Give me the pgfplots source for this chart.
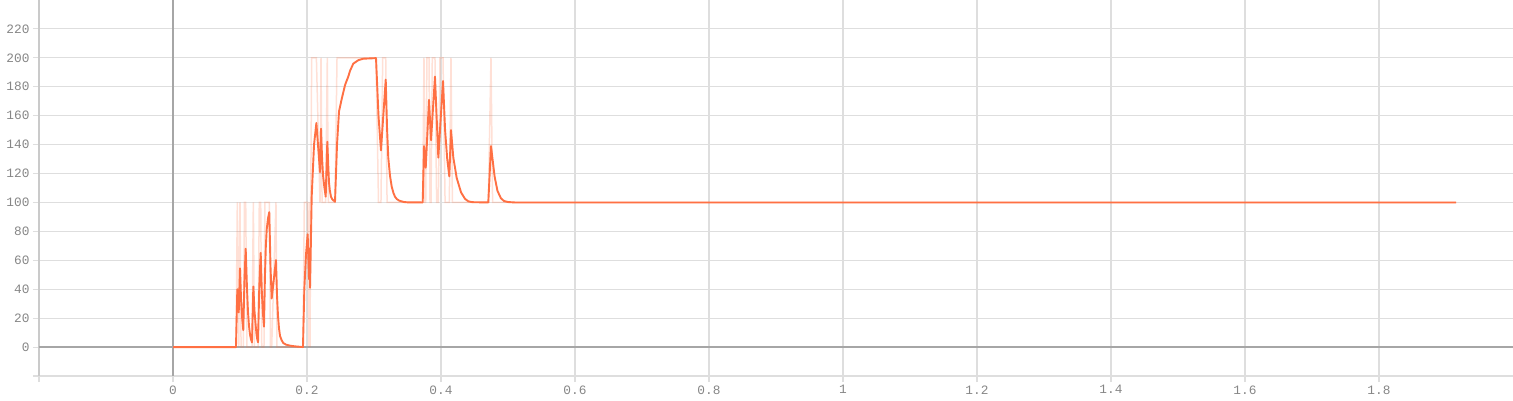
\documentclass[border=0pt]{standalone}
\usepackage{pgfplots}
\pgfplotsset{compat=1.18}
\usepackage{fontspec}
\setmainfont{Liberation Sans}
\newfontfamily\tickfont{Liberation Mono}
\definecolor{lineorange}{HTML}{FF7043}
\definecolor{gridc}{HTML}{DEDEDE}
\definecolor{zeroc}{HTML}{A6A6A6}
\definecolor{axc}{HTML}{CACACA}
\definecolor{labc}{HTML}{868686}
\begin{document}
\begin{tikzpicture}
\begin{axis}[
  name=ax,
  scale only axis,
  width=1474pt, height=376pt,
  xmin=-0.2, xmax=2.0, ymin=-20, ymax=240,
  xtick={-0.2,0,0.2,0.4,0.6,0.8,1,1.2,1.4,1.6,1.8},
  xticklabels={{},0,0.2,0.4,0.6,0.8,1,1.2,1.4,1.6,1.8},
  ytick={-20,0,20,40,60,80,100,120,140,160,180,200,220},
  yticklabels={{},0,20,40,60,80,100,120,140,160,180,200,220},
  grid=major,
  major grid style={gridc, line width=1.1pt},
  axis x line*=bottom,
  axis y line*=left,
  x axis line style={gridc, line width=1.1pt},
  y axis line style={axc, line width=1.1pt},
  tick style={gridc, line width=1.1pt},
  major tick length=6pt,
  tick align=outside,
  ticklabel style={font=\tickfont\fontsize{12.8}{14}\selectfont, text=labc},
  clip=true,
]
\draw[zeroc, line width=1.4pt] (axis cs:0,-20) -- (axis cs:0,240);
\draw[zeroc, line width=1.4pt] (axis cs:-0.2,0) -- (axis cs:2.0,0);

% raw series (faint)
\addplot[lineorange, draw opacity=0.22, line width=1.5pt, no markers, sharp plot] coordinates {
(0,0)(0.0940,0)(0.0960,100)(0.0981,0)(0.1000,100)(0.1016,0)(0.1049,0)
(0.1067,100)(0.1085,100)(0.1104,0)(0.1179,0)(0.1199,100)(0.1216,0)(0.1269,0)
(0.1288,100)(0.1309,100)(0.1325,0)(0.1358,0)(0.1372,100)(0.1437,100)
(0.1455,0)(0.1473,0)(0.1537,100)(0.1552,0)(0.1940,0)
(0.1960,100)(0.2010,100)(0.2030,0)(0.2040,100)(0.2045,0)(0.2055,100)
(0.2070,200)(0.2140,200)(0.2194,100)(0.2209,200)(0.2225,100)(0.2279,100)
(0.2303,200)(0.2318,100)(0.2418,100)(0.2448,200)(0.3030,200)
(0.3067,100)(0.3104,100)(0.3130,200)(0.3175,200)(0.3195,100)(0.3727,100)
(0.3746,200)(0.3760,100)(0.3772,100)(0.3790,200)(0.3821,200)(0.3836,100)
(0.3851,100)(0.3870,200)(0.3910,200)(0.3935,100)(0.3960,100)(0.3985,200)
(0.4030,200)(0.4061,100)(0.4124,100)(0.4149,200)(0.4170,100)(0.4706,100)
(0.4746,200)(0.4770,100)(1.915,100)
};

% smoothed series
\addplot[lineorange, line width=1.9pt, no markers, sharp plot, line join=round] coordinates {
(0,0)(0.0940,0)(0.0960,40)(0.0981,24)(0.1000,54.4)(0.1016,32.6)(0.1033,19.6)
(0.1049,11.7)(0.1067,47)(0.1085,68)(0.1104,41)(0.1119,24.5)(0.1134,14.7)
(0.1149,8.8)(0.1164,5.3)(0.1179,3.2)(0.1199,41.9)(0.1216,25.1)(0.1234,15.1)
(0.1246,9)(0.1258,5.4)(0.1269,3.3)(0.1288,42)(0.1309,65.2)(0.1325,39.1)
(0.1342,23.5)(0.1358,14.1)(0.1372,48.4)(0.1385,69)(0.1399,81.5)(0.1418,88.9)
(0.1437,93.3)(0.1455,56)(0.1473,33.6)(0.1537,60.2)(0.1552,36.1)(0.1567,21.7)
(0.1582,13)(0.1597,7.8)(0.1622,4.7)(0.1646,2.8)(0.1687,1.7)(0.1746,1.0)
(0.1821,0.5)(0.1896,0.2)(0.1940,0)
(0.1960,40)(0.1985,64)(0.2010,78)(0.2030,47)(0.2040,68)(0.2045,41)
(0.2055,64.6)(0.2070,104)(0.2105,140)(0.2140,155)(0.2194,121)(0.2209,151)
(0.2225,130.6)(0.2240,118.4)(0.2258,111)(0.2279,104)(0.2303,142)(0.2318,125)
(0.2328,114)(0.2340,108.6)(0.2358,104)(0.2380,102)(0.2418,100.5)(0.2448,140)
(0.2478,163)(0.2520,172)(0.2567,181)(0.2590,184)(0.2616,187)(0.2642,191)
(0.2691,196)(0.2766,198.4)(0.2840,199.4)(0.3030,199.8)(0.3067,160)
(0.3104,136)(0.3175,185)(0.3195,151)(0.3213,131)(0.3239,118.4)(0.3264,111)
(0.3290,106.6)(0.3313,104)(0.3340,102.4)(0.3370,101.4)(0.3400,100.9)
(0.3450,100.3)(0.3500,100.1)(0.3727,100)(0.3746,139)(0.3772,124)(0.3821,171)
(0.3851,143)(0.3910,187)(0.3960,131)(0.4030,184)(0.4061,150)(0.4093,130)
(0.4124,118)(0.4149,150)(0.4184,131)(0.4234,117)(0.4299,107)(0.4358,102.5)
(0.4407,100.8)(0.4467,100.2)(0.4706,100)(0.4746,139)(0.4800,118)(0.4843,108)
(0.4893,103)(0.4940,101)(0.5000,100.3)(0.5100,100)(1.915,100)
};
\end{axis}
\pgfresetboundingbox
\path[use as bounding box] ([shift={(-39pt,-24pt)}]ax.south west) rectangle (ax.north east);
\end{tikzpicture}
\end{document}
